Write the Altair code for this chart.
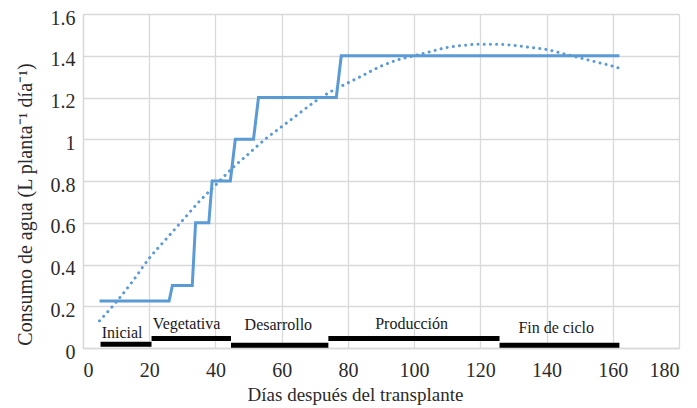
import altair as alt
import pandas as pd

# Measured water use (step curve)
step_days = [5, 26, 27, 33, 34, 38, 39, 44.5, 46, 51.5, 53, 76.5, 78, 162]
step_vals = [0.225, 0.225, 0.30, 0.30, 0.60, 0.60, 0.80, 0.80, 1.00, 1.00, 1.20, 1.20, 1.40, 1.40]

# Polynomial trend line (dotted)
trend_days = [5, 10, 15, 20, 25, 30, 35, 40, 45, 50, 55, 60, 65, 70, 75, 80, 85,
              90, 95, 100, 105, 110, 115, 120, 125, 130, 135, 140, 145, 150, 155, 160, 162]
trend_vals = [0.13, 0.22, 0.32, 0.43, 0.52, 0.61, 0.70, 0.78, 0.86, 0.93, 1.00, 1.06,
              1.12, 1.18, 1.23, 1.27, 1.31, 1.35, 1.38, 1.40, 1.42, 1.44, 1.45, 1.455,
              1.455, 1.45, 1.44, 1.43, 1.41, 1.39, 1.37, 1.35, 1.34]

# Crop phases
phase_names = ["Inicial", "Vegetativa", "Desarrollo", "Producción", "Fin de ciclo"]
phase_start = [5.3, 20.7, 44.7, 74.1, 125.8]
phase_end = [20.7, 44.7, 74.1, 125.8, 162]

x_ticks = [0, 20, 40, 60, 80, 100, 120, 140, 160, 180]
y_ticks = [0, 0.2, 0.4, 0.6, 0.8, 1.0, 1.2, 1.4, 1.6]

# layout constants (not data)
bar_level = [0.018, 0.046, 0.013, 0.046, 0.013]
label_level = [0.046, 0.090, 0.086, 0.093, 0.070]
label_shift = [-1.2, -1.4, -0.4, -0.7, -1.0]

BLUE = "#5B9BD5"
FONT = "'Liberation Serif', 'Times New Roman', Times, serif"

step_df = pd.DataFrame({"d": step_days, "v": step_vals})
trend_df = pd.DataFrame({"d": trend_days, "v": trend_vals})
phase_df = pd.DataFrame({
    "name": phase_names,
    "s": phase_start,
    "e": phase_end,
    "y": bar_level,
    "ly": label_level,
    "lx": [(a + b) / 2 + sh for a, b, sh in zip(phase_start, phase_end, label_shift)],
})

xscale = alt.Scale(domain=[0, 180], nice=False, zero=False)
yscale = alt.Scale(domain=[0, 1.6], nice=False)

xaxis = alt.Axis(values=x_ticks, title="Días después del transplante",
                 titleX=272, titleY=52, titleBaseline="alphabetic", titleAlign="center")
yaxis = alt.Axis(values=y_ticks, format=".1~f", title="Consumo de agua (L planta⁻¹ día⁻¹)",
                 titleX=-52, titleY=190, titleBaseline="alphabetic", titleAlign="center",
                 titleAngle=-90, titleFontSize=20)

step = alt.Chart(step_df).mark_line(color=BLUE, strokeWidth=3, strokeJoin="miter").encode(
    x=alt.X("d:Q", scale=xscale, axis=xaxis),
    y=alt.Y("v:Q", scale=yscale, axis=yaxis),
)

trend = alt.Chart(trend_df).mark_line(
    color=BLUE, strokeWidth=3, strokeDash=[0.1, 6.1], strokeCap="round",
    interpolate="monotone"
).encode(
    x=alt.X("d:Q", scale=xscale),
    y=alt.Y("v:Q", scale=yscale),
)

bars = alt.Chart(phase_df).mark_rule(color="black", strokeWidth=5, strokeCap="butt").encode(
    x=alt.X("s:Q", scale=xscale),
    x2="e:Q",
    y=alt.Y("y:Q", scale=yscale),
)

labels = alt.Chart(phase_df).mark_text(
    font=FONT, fontSize=16, color="#1a1a1a", baseline="alphabetic", align="center"
).encode(
    x=alt.X("lx:Q", scale=xscale),
    y=alt.Y("ly:Q", scale=yscale),
    text="name:N",
)

chart = alt.layer(step, trend, bars, labels).properties(
    width=596, height=334,
    autosize=alt.AutoSizeParams(type="none"),
    padding={"left": 83, "top": 14, "right": 18, "bottom": 60},
).configure_view(stroke=None).configure_axis(
    grid=True, gridColor="#d9d9d9", gridWidth=1.3,
    domainColor="#d9d9d9", domainWidth=1.3,
    ticks=False,
    labelFont=FONT, labelFontSize=20, labelColor="#2b2b2b",
    titleFont=FONT, titleFontSize=19, titleColor="#2b2b2b", titleFontWeight="normal",
).configure_axisX(labelPadding=12).configure_axisY(labelPadding=8, labelOffset=4)

chart.save("out.html", embed_options={"renderer": "svg", "actions": False})
